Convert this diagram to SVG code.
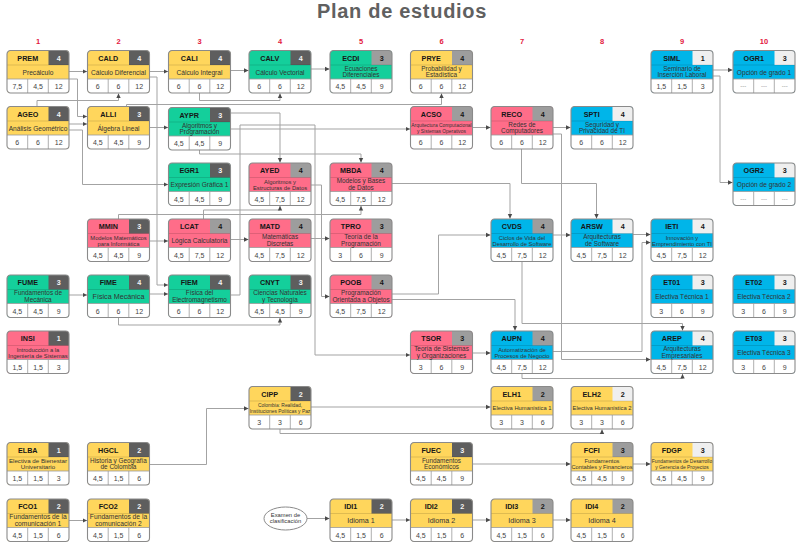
<svg xmlns="http://www.w3.org/2000/svg" width="800" height="546" viewBox="0 0 800 546">
<style>
text{font-family:"Liberation Sans",Arial,Helvetica,sans-serif}
.y .bg{fill:#FFD65C}.g .bg{fill:#14CF9B}.p .bg{fill:#FF6D89}.b .bg{fill:#00B5E9}
.sd{fill:#5E5E5E}.sm{fill:#9D9D9D}.sl{fill:#EFEFEF}
.cd,.k{font-size:7.2px;font-weight:bold;text-anchor:middle;fill:#161616}
.kw{fill:#F4F4F4}
.t{font-size:6.6px;text-anchor:middle;fill:#333}
.t2{font-size:6.4px}
.nm{font-size:7px;text-anchor:middle;fill:#444}
.dash{font-size:6px;fill:#888}
.col{font-size:7.5px;font-weight:bold;text-anchor:middle;fill:#E3173E}
.con path{fill:none;stroke:#A3A3A3;stroke-width:1;marker-end:url(#ah)}
</style>
<defs>
<marker id="ah" markerUnits="userSpaceOnUse" markerWidth="6" markerHeight="6" refX="4.5" refY="3" orient="auto"><path d="M0,0.8 L4.5,3 L0,5.2 Z" fill="#4A4A4A"/></marker>
<path id="rw" d="M0,28.5 H62 V39 A3.5,3.5 0 0 1 58.5,42.5 H3.5 A3.5,3.5 0 0 1 0,39 Z" fill="#fff"/>
<path id="cb" d="M41.5,0 H58.5 A3.5,3.5 0 0 1 62,3.5 V14.5 H41.5 Z"/>
<g id="fr">
<path d="M0,14.5 H62" stroke="#000" stroke-opacity="0.18" stroke-width="0.7" fill="none"/>
<path d="M0,28.5 H62 M20.7,28.5 V42.5 M41.3,28.5 V42.5" stroke="#9A9A9A" stroke-width="0.8" fill="none"/>
<rect width="62" height="42.5" rx="3.5" fill="none" stroke="#8A8A8A" stroke-width="1.1"/>
</g>
</defs>

<rect width="800" height="546" fill="#fff"/>
<text x="402" y="17.5" font-size="20" font-weight="bold" fill="#606060" text-anchor="middle" letter-spacing="0.7">Plan de estudios</text>

<!-- semester numbers -->
<g id="semesters">
<text class="col" x="38" y="43.5">1</text>
<text class="col" x="118.5" y="43.5">2</text>
<text class="col" x="199.5" y="43.5">3</text>
<text class="col" x="280" y="43.5">4</text>
<text class="col" x="361" y="43.5">5</text>
<text class="col" x="441.5" y="43.5">6</text>
<text class="col" x="522" y="43.5">7</text>
<text class="col" x="602" y="43.5">8</text>
<text class="col" x="682" y="43.5">9</text>
<text class="col" x="764" y="43.5">10</text>
</g>

<!-- prerequisite connectors -->
<g id="connectors" class="con">
<path d="M69,71.5H87"/>
<path d="M149.5,71.5H168"/>
<path d="M230.5,70.5H248.5"/>
<path d="M311,69H329.5"/>
<path d="M713,70H732.5"/>
<path d="M713,76H720V182.5H732.5"/>
<path d="M69,79H77.5V116.5H87"/>
<path d="M37,106.5V100.5H118.5V93.5"/>
<path d="M69,124H87"/>
<path d="M69,130H82.5V184.5H168"/>
<path d="M149.5,127.5H168"/>
<path d="M149.5,77H157V285H168"/>
<path d="M199.5,93V100.5H280V93.5"/>
<path d="M126.5,106.5V104.5H441.5V93.5"/>
<path d="M230.5,113H280V162.5"/>
<path d="M230.5,129H410"/>
<path d="M230.5,295H240V125H315V355H410"/>
<path d="M199.5,149V154H361V162.5"/>
<path d="M472.5,127.5H490.5"/>
<path d="M553,127.5H570.5"/>
<path d="M553,134H561.5V359.5H650.5"/>
<path d="M521.5,149V183.5H596.5V218.5"/>
<path d="M392,183.5H510V218.5"/>
<path d="M149.5,241H168"/>
<path d="M230.5,239.5H248.5"/>
<path d="M311,238.5H329.5"/>
<path d="M203.5,219V210H280V206"/>
<path d="M118.5,219V214.5H361V206"/>
<path d="M311,185H321.5V296.5H329.5"/>
<path d="M553,235H570.5"/>
<path d="M633,234.5H650.5"/>
<path d="M553,351.5H642V242.5H650.5"/>
<path d="M392,294H438.5V235H490.5"/>
<path d="M392,299.5H515V330.5"/>
<path d="M522,261.5V323.5H682.5V330.5"/>
<path d="M522,373.5V378.5H682.5V374"/>
<path d="M472.5,353H490.5"/>
<path d="M69,295H87"/>
<path d="M149.5,294H168"/>
<path d="M118.5,317.5V325H280V318"/>
<path d="M311,407H490.5"/>
<path d="M280,429V433.5H602V429.5"/>
<path d="M149.5,464.5H206.5V408.5H248.5"/>
<path d="M472.5,464H570.5"/>
<path d="M633,464H650.5"/>
<path d="M69,520.5H87"/>
<path d="M307,518.5H329.5"/>
<path d="M392,520H410"/>
<path d="M472.5,520H490.5"/>
<path d="M553,520H570.5"/>
</g>

<!-- semester 1 -->
<g id="PREM" class="y" transform="translate(7,50.5)"><rect class="bg" width="62" height="42.5" rx="3.5"/><use href="#rw"/><use href="#cb" class="sd"/><use href="#fr"/><text class="cd" x="20.75" y="10.4">PREM</text><text class="k kw" x="51.75" y="10.4">4</text><text class="t" x="31" y="24">Precálculo</text><text class="nm" y="38.6"><tspan x="10.3">7,5</tspan><tspan x="31">4,5</tspan><tspan x="51.7">12</tspan></text></g>
<g id="AGEO" class="y" transform="translate(7,106.5)"><rect class="bg" width="62" height="42.5" rx="3.5"/><use href="#rw"/><use href="#cb" class="sd"/><use href="#fr"/><text class="cd" x="20.75" y="10.4">AGEO</text><text class="k kw" x="51.75" y="10.4">4</text><text class="t" x="31" y="24">Análisis Geométrico</text><text class="nm" y="38.6"><tspan x="10.3">6</tspan><tspan x="31">6</tspan><tspan x="51.7">12</tspan></text></g>
<g id="FUME" class="g" transform="translate(7,275)"><rect class="bg" width="62" height="42.5" rx="3.5"/><use href="#rw"/><use href="#cb" class="sd"/><use href="#fr"/><text class="cd" x="20.75" y="10.4">FUME</text><text class="k kw" x="51.75" y="10.4">3</text><text class="t t2" x="31" y="20.4">Fundamentos de<tspan x="31" dy="6.4">Mecánica</tspan></text><text class="nm" y="38.6"><tspan x="10.3">4,5</tspan><tspan x="31">4,5</tspan><tspan x="51.7">9</tspan></text></g>
<g id="INSI" class="p" transform="translate(7,331)"><rect class="bg" width="62" height="42.5" rx="3.5"/><use href="#rw"/><use href="#cb" class="sd"/><use href="#fr"/><text class="cd" x="20.75" y="10.4">INSI</text><text class="k kw" x="51.75" y="10.4">1</text><text class="t" style="font-size:5.8px" x="31" y="20.5">Introducción a la<tspan x="31" dy="6">Ingeniería de Sistemas</tspan></text><text class="nm" y="38.6"><tspan x="10.3">1,5</tspan><tspan x="31">1,5</tspan><tspan x="51.7">3</tspan></text></g>
<g id="ELBA" class="y" transform="translate(7,442.5)"><rect class="bg" width="62" height="42.5" rx="3.5"/><use href="#rw"/><use href="#cb" class="sd"/><use href="#fr"/><text class="cd" x="20.75" y="10.4">ELBA</text><text class="k kw" x="51.75" y="10.4">1</text><text class="t" style="font-size:6.2px" x="31" y="20.4">Electiva de Bienestar<tspan x="31" dy="6.4">Universitario</tspan></text><text class="nm" y="38.6"><tspan x="10.3">1,5</tspan><tspan x="31">1,5</tspan><tspan x="51.7">3</tspan></text></g>
<g id="FCO1" class="y" transform="translate(7,499)"><rect class="bg" width="62" height="42.5" rx="3.5"/><use href="#rw"/><use href="#cb" class="sd"/><use href="#fr"/><text class="cd" x="20.75" y="10.4">FCO1</text><text class="k kw" x="51.75" y="10.4">2</text><text class="t" style="font-size:6.7px" x="31" y="20.4">Fundamentos de la<tspan x="31" dy="6.4">comunicación 1</tspan></text><text class="nm" y="38.6"><tspan x="10.3">4,5</tspan><tspan x="31">1,5</tspan><tspan x="51.7">6</tspan></text></g>

<!-- semester 2 -->
<g id="CALD" class="y" transform="translate(87.5,50.5)"><rect class="bg" width="62" height="42.5" rx="3.5"/><use href="#rw"/><use href="#cb" class="sd"/><use href="#fr"/><text class="cd" x="20.75" y="10.4">CALD</text><text class="k kw" x="51.75" y="10.4">4</text><text class="t" x="31" y="24">Cálculo Diferencial</text><text class="nm" y="38.6"><tspan x="10.3">6</tspan><tspan x="31">6</tspan><tspan x="51.7">12</tspan></text></g>
<g id="ALLI" class="y" transform="translate(87.5,106.5)"><rect class="bg" width="62" height="42.5" rx="3.5"/><use href="#rw"/><use href="#cb" class="sd"/><use href="#fr"/><text class="cd" x="20.75" y="10.4">ALLI</text><text class="k kw" x="51.75" y="10.4">3</text><text class="t" x="31" y="24">Álgebra Lineal</text><text class="nm" y="38.6"><tspan x="10.3">4,5</tspan><tspan x="31">4,5</tspan><tspan x="51.7">9</tspan></text></g>
<g id="MMIN" class="p" transform="translate(87.5,219)"><rect class="bg" width="62" height="42.5" rx="3.5"/><use href="#rw"/><use href="#cb" class="sd"/><use href="#fr"/><text class="cd" x="20.75" y="10.4">MMIN</text><text class="k kw" x="51.75" y="10.4">3</text><text class="t" style="font-size:5.8px" x="31" y="20.5">Modelos Matemáticos<tspan x="31" dy="6">para Informática</tspan></text><text class="nm" y="38.6"><tspan x="10.3">4,5</tspan><tspan x="31">4,5</tspan><tspan x="51.7">9</tspan></text></g>
<g id="FIME" class="g" transform="translate(87.5,275)"><rect class="bg" width="62" height="42.5" rx="3.5"/><use href="#rw"/><use href="#cb" class="sd"/><use href="#fr"/><text class="cd" x="20.75" y="10.4">FIME</text><text class="k kw" x="51.75" y="10.4">4</text><text class="t" style="font-size:7.2px" x="31" y="24.2">Física Mecánica</text><text class="nm" y="38.6"><tspan x="10.3">6</tspan><tspan x="31">6</tspan><tspan x="51.7">12</tspan></text></g>
<g id="HGCL" class="y" transform="translate(87.5,442.5)"><rect class="bg" width="62" height="42.5" rx="3.5"/><use href="#rw"/><use href="#cb" class="sd"/><use href="#fr"/><text class="cd" x="20.75" y="10.4">HGCL</text><text class="k kw" x="51.75" y="10.4">2</text><text class="t t2" x="31" y="20.4">Historia y Geografía<tspan x="31" dy="6.4">de Colombia</tspan></text><text class="nm" y="38.6"><tspan x="10.3">4,5</tspan><tspan x="31">1,5</tspan><tspan x="51.7">6</tspan></text></g>
<g id="FCO2" class="y" transform="translate(87.5,499)"><rect class="bg" width="62" height="42.5" rx="3.5"/><use href="#rw"/><use href="#cb" class="sd"/><use href="#fr"/><text class="cd" x="20.75" y="10.4">FCO2</text><text class="k kw" x="51.75" y="10.4">2</text><text class="t" style="font-size:6.7px" x="31" y="20.4">Fundamentos de la<tspan x="31" dy="6.4">comunicación 2</tspan></text><text class="nm" y="38.6"><tspan x="10.3">4,5</tspan><tspan x="31">1,5</tspan><tspan x="51.7">6</tspan></text></g>

<!-- semester 3 -->
<g id="CALI" class="y" transform="translate(168.5,50.5)"><rect class="bg" width="62" height="42.5" rx="3.5"/><use href="#rw"/><use href="#cb" class="sd"/><use href="#fr"/><text class="cd" x="20.75" y="10.4">CALI</text><text class="k kw" x="51.75" y="10.4">4</text><text class="t" x="31" y="24">Cálculo Integral</text><text class="nm" y="38.6"><tspan x="10.3">6</tspan><tspan x="31">6</tspan><tspan x="51.7">12</tspan></text></g>
<g id="AYPR" class="g" transform="translate(168.5,107.5)"><rect class="bg" width="62" height="42.5" rx="3.5"/><use href="#rw"/><use href="#cb" class="sd"/><use href="#fr"/><text class="cd" x="20.75" y="10.4">AYPR</text><text class="k kw" x="51.75" y="10.4">3</text><text class="t t2" x="31" y="20.4">Algoritmos y<tspan x="31" dy="6.4">Programación</tspan></text><text class="nm" y="38.6"><tspan x="10.3">4,5</tspan><tspan x="31">4,5</tspan><tspan x="51.7">9</tspan></text></g>
<g id="EGR1" class="g" transform="translate(168.5,163)"><rect class="bg" width="62" height="42.5" rx="3.5"/><use href="#rw"/><use href="#cb" class="sd"/><use href="#fr"/><text class="cd" x="20.75" y="10.4">EGR1</text><text class="k kw" x="51.75" y="10.4">3</text><text class="t" x="31" y="24">Expresión Gráfica 1</text><text class="nm" y="38.6"><tspan x="10.3">4,5</tspan><tspan x="31">4,5</tspan><tspan x="51.7">9</tspan></text></g>
<g id="LCAT" class="p" transform="translate(168.5,219)"><rect class="bg" width="62" height="42.5" rx="3.5"/><use href="#rw"/><use href="#cb" class="sm"/><use href="#fr"/><text class="cd" x="20.75" y="10.4">LCAT</text><text class="k" x="51.75" y="10.4">4</text><text class="t" x="31" y="24">Lógica Calculatoria</text><text class="nm" y="38.6"><tspan x="10.3">4,5</tspan><tspan x="31">7,5</tspan><tspan x="51.7">12</tspan></text></g>
<g id="FIEM" class="g" transform="translate(168.5,275)"><rect class="bg" width="62" height="42.5" rx="3.5"/><use href="#rw"/><use href="#cb" class="sd"/><use href="#fr"/><text class="cd" x="20.75" y="10.4">FIEM</text><text class="k kw" x="51.75" y="10.4">4</text><text class="t t2" x="31" y="20.4">Física del<tspan x="31" dy="6.4">Electromagnetismo</tspan></text><text class="nm" y="38.6"><tspan x="10.3">6</tspan><tspan x="31">6</tspan><tspan x="51.7">12</tspan></text></g>

<!-- semester 4 -->
<g id="CALV" class="g" transform="translate(249,50.5)"><rect class="bg" width="62" height="42.5" rx="3.5"/><use href="#rw"/><use href="#cb" class="sd"/><use href="#fr"/><text class="cd" x="20.75" y="10.4">CALV</text><text class="k kw" x="51.75" y="10.4">4</text><text class="t" x="31" y="24">Cálculo Vectorial</text><text class="nm" y="38.6"><tspan x="10.3">6</tspan><tspan x="31">6</tspan><tspan x="51.7">12</tspan></text></g>
<g id="AYED" class="p" transform="translate(249,163)"><rect class="bg" width="62" height="42.5" rx="3.5"/><use href="#rw"/><use href="#cb" class="sm"/><use href="#fr"/><text class="cd" x="20.75" y="10.4">AYED</text><text class="k" x="51.75" y="10.4">4</text><text class="t" style="font-size:5.8px" x="31" y="20.5">Algoritmos y<tspan x="31" dy="6">Estructuras de Datos</tspan></text><text class="nm" y="38.6"><tspan x="10.3">4,5</tspan><tspan x="31">7,5</tspan><tspan x="51.7">12</tspan></text></g>
<g id="MATD" class="p" transform="translate(249,219)"><rect class="bg" width="62" height="42.5" rx="3.5"/><use href="#rw"/><use href="#cb" class="sm"/><use href="#fr"/><text class="cd" x="20.75" y="10.4">MATD</text><text class="k" x="51.75" y="10.4">4</text><text class="t t2" x="31" y="20.4">Matemáticas<tspan x="31" dy="6.4">Discretas</tspan></text><text class="nm" y="38.6"><tspan x="10.3">4,5</tspan><tspan x="31">7,5</tspan><tspan x="51.7">12</tspan></text></g>
<g id="CNYT" class="g" transform="translate(249,275)"><rect class="bg" width="62" height="42.5" rx="3.5"/><use href="#rw"/><use href="#cb" class="sd"/><use href="#fr"/><text class="cd" x="20.75" y="10.4">CNYT</text><text class="k kw" x="51.75" y="10.4">3</text><text class="t t2" x="31" y="20.4">Ciencias Naturales<tspan x="31" dy="6.4">y Tecnología</tspan></text><text class="nm" y="38.6"><tspan x="10.3">4,5</tspan><tspan x="31">4,5</tspan><tspan x="51.7">9</tspan></text></g>
<g id="CIPP" class="y" transform="translate(249,386.5)"><rect class="bg" width="62" height="42.5" rx="3.5"/><use href="#rw"/><use href="#cb" class="sd"/><use href="#fr"/><text class="cd" x="20.75" y="10.4">CIPP</text><text class="k kw" x="51.75" y="10.4">2</text><text class="t" style="font-size:4.9px" x="31" y="20.6">Colombia: Realidad,<tspan x="31" dy="5.4">Instituciones Políticas y Paz</tspan></text><text class="nm" y="38.6"><tspan x="10.3">3</tspan><tspan x="31">3</tspan><tspan x="51.7">6</tspan></text></g>

<!-- semester 5 -->
<g id="ECDI" class="g" transform="translate(330,50.5)"><rect class="bg" width="62" height="42.5" rx="3.5"/><use href="#rw"/><use href="#cb" class="sm"/><use href="#fr"/><text class="cd" x="20.75" y="10.4">ECDI</text><text class="k" x="51.75" y="10.4">3</text><text class="t t2" x="31" y="20.4">Ecuaciones<tspan x="31" dy="6.4">Diferenciales</tspan></text><text class="nm" y="38.6"><tspan x="10.3">4,5</tspan><tspan x="31">4,5</tspan><tspan x="51.7">9</tspan></text></g>
<g id="MBDA" class="p" transform="translate(330,163)"><rect class="bg" width="62" height="42.5" rx="3.5"/><use href="#rw"/><use href="#cb" class="sm"/><use href="#fr"/><text class="cd" x="20.75" y="10.4">MBDA</text><text class="k" x="51.75" y="10.4">4</text><text class="t t2" x="31" y="20.4">Modelos y Bases<tspan x="31" dy="6.4">de Datos</tspan></text><text class="nm" y="38.6"><tspan x="10.3">4,5</tspan><tspan x="31">7,5</tspan><tspan x="51.7">12</tspan></text></g>
<g id="TPRO" class="p" transform="translate(330,219)"><rect class="bg" width="62" height="42.5" rx="3.5"/><use href="#rw"/><use href="#cb" class="sm"/><use href="#fr"/><text class="cd" x="20.75" y="10.4">TPRO</text><text class="k" x="51.75" y="10.4">3</text><text class="t t2" x="31" y="20.4">Teoría de la<tspan x="31" dy="6.4">Programación</tspan></text><text class="nm" y="38.6"><tspan x="10.3">3</tspan><tspan x="31">6</tspan><tspan x="51.7">9</tspan></text></g>
<g id="POOB" class="p" transform="translate(330,275)"><rect class="bg" width="62" height="42.5" rx="3.5"/><use href="#rw"/><use href="#cb" class="sm"/><use href="#fr"/><text class="cd" x="20.75" y="10.4">POOB</text><text class="k" x="51.75" y="10.4">4</text><text class="t t2" x="31" y="20.4">Programación<tspan x="31" dy="6.4">Orientada a Objetos</tspan></text><text class="nm" y="38.6"><tspan x="10.3">4,5</tspan><tspan x="31">7,5</tspan><tspan x="51.7">12</tspan></text></g>
<g id="IDI1" class="y" transform="translate(330,499)"><rect class="bg" width="62" height="42.5" rx="3.5"/><use href="#rw"/><use href="#cb" class="sd"/><use href="#fr"/><text class="cd" x="20.75" y="10.4">IDI1</text><text class="k kw" x="51.75" y="10.4">2</text><text class="t" style="font-size:7.2px" x="31" y="24.2">Idioma 1</text><text class="nm" y="38.6"><tspan x="10.3">4,5</tspan><tspan x="31">1,5</tspan><tspan x="51.7">6</tspan></text></g>

<!-- semester 6 -->
<g id="PRYE" class="y" transform="translate(410.5,50.5)"><rect class="bg" width="62" height="42.5" rx="3.5"/><use href="#rw"/><use href="#cb" class="sm"/><use href="#fr"/><text class="cd" x="20.75" y="10.4">PRYE</text><text class="k" x="51.75" y="10.4">4</text><text class="t t2" x="31" y="20.4">Probabilidad y<tspan x="31" dy="6.4">Estadística</tspan></text><text class="nm" y="38.6"><tspan x="10.3">6</tspan><tspan x="31">6</tspan><tspan x="51.7">12</tspan></text></g>
<g id="ACSO" class="p" transform="translate(410.5,106.5)"><rect class="bg" width="62" height="42.5" rx="3.5"/><use href="#rw"/><use href="#cb" class="sm"/><use href="#fr"/><text class="cd" x="20.75" y="10.4">ACSO</text><text class="k" x="51.75" y="10.4">4</text><text class="t" style="font-size:4.9px" x="31" y="20.6">Arquitectura Computacional<tspan x="31" dy="5.4">y Sistemas Operativos</tspan></text><text class="nm" y="38.6"><tspan x="10.3">6</tspan><tspan x="31">6</tspan><tspan x="51.7">12</tspan></text></g>
<g id="TSOR" class="p" transform="translate(410.5,331)"><rect class="bg" width="62" height="42.5" rx="3.5"/><use href="#rw"/><use href="#cb" class="sm"/><use href="#fr"/><text class="cd" x="20.75" y="10.4">TSOR</text><text class="k" x="51.75" y="10.4">3</text><text class="t t2" x="31" y="20.4">Teoría de Sistemas<tspan x="31" dy="6.4">y Organizaciones</tspan></text><text class="nm" y="38.6"><tspan x="10.3">3</tspan><tspan x="31">6</tspan><tspan x="51.7">9</tspan></text></g>
<g id="FUEC" class="y" transform="translate(410.5,442.5)"><rect class="bg" width="62" height="42.5" rx="3.5"/><use href="#rw"/><use href="#cb" class="sd"/><use href="#fr"/><text class="cd" x="20.75" y="10.4">FUEC</text><text class="k kw" x="51.75" y="10.4">3</text><text class="t t2" x="31" y="20.4">Fundamentos<tspan x="31" dy="6.4">Económicos</tspan></text><text class="nm" y="38.6"><tspan x="10.3">4,5</tspan><tspan x="31">4,5</tspan><tspan x="51.7">9</tspan></text></g>
<g id="IDI2" class="y" transform="translate(410.5,499)"><rect class="bg" width="62" height="42.5" rx="3.5"/><use href="#rw"/><use href="#cb" class="sd"/><use href="#fr"/><text class="cd" x="20.75" y="10.4">IDI2</text><text class="k kw" x="51.75" y="10.4">2</text><text class="t" style="font-size:7.2px" x="31" y="24.2">Idioma 2</text><text class="nm" y="38.6"><tspan x="10.3">4,5</tspan><tspan x="31">1,5</tspan><tspan x="51.7">6</tspan></text></g>

<!-- semester 7 -->
<g id="RECO" class="p" transform="translate(491,106.5)"><rect class="bg" width="62" height="42.5" rx="3.5"/><use href="#rw"/><use href="#cb" class="sm"/><use href="#fr"/><text class="cd" x="20.75" y="10.4">RECO</text><text class="k" x="51.75" y="10.4">4</text><text class="t t2" x="31" y="20.4">Redes de<tspan x="31" dy="6.4">Computadores</tspan></text><text class="nm" y="38.6"><tspan x="10.3">6</tspan><tspan x="31">6</tspan><tspan x="51.7">12</tspan></text></g>
<g id="CVDS" class="b" transform="translate(491,219)"><rect class="bg" width="62" height="42.5" rx="3.5"/><use href="#rw"/><use href="#cb" class="sm"/><use href="#fr"/><text class="cd" x="20.75" y="10.4">CVDS</text><text class="k" x="51.75" y="10.4">4</text><text class="t" style="font-size:5.8px" x="31" y="20.5">Ciclos de Vida del<tspan x="31" dy="6">Desarrollo de Software</tspan></text><text class="nm" y="38.6"><tspan x="10.3">4,5</tspan><tspan x="31">7,5</tspan><tspan x="51.7">12</tspan></text></g>
<g id="AUPN" class="b" transform="translate(491,331)"><rect class="bg" width="62" height="42.5" rx="3.5"/><use href="#rw"/><use href="#cb" class="sm"/><use href="#fr"/><text class="cd" x="20.75" y="10.4">AUPN</text><text class="k" x="51.75" y="10.4">4</text><text class="t" style="font-size:5.8px" x="31" y="20.5">Automatización de<tspan x="31" dy="6">Procesos de Negocio</tspan></text><text class="nm" y="38.6"><tspan x="10.3">4,5</tspan><tspan x="31">7,5</tspan><tspan x="51.7">12</tspan></text></g>
<g id="ELH1" class="y" transform="translate(491,386.5)"><rect class="bg" width="62" height="42.5" rx="3.5"/><use href="#rw"/><use href="#cb" class="sm"/><use href="#fr"/><text class="cd" x="20.75" y="10.4">ELH1</text><text class="k" x="51.75" y="10.4">2</text><text class="t" style="font-size:5.8px" x="31" y="23.6">Electiva Humanística 1</text><text class="nm" y="38.6"><tspan x="10.3">3</tspan><tspan x="31">3</tspan><tspan x="51.7">6</tspan></text></g>
<g id="IDI3" class="y" transform="translate(491,499)"><rect class="bg" width="62" height="42.5" rx="3.5"/><use href="#rw"/><use href="#cb" class="sm"/><use href="#fr"/><text class="cd" x="20.75" y="10.4">IDI3</text><text class="k" x="51.75" y="10.4">2</text><text class="t" style="font-size:7.2px" x="31" y="24.2">Idioma 3</text><text class="nm" y="38.6"><tspan x="10.3">4,5</tspan><tspan x="31">1,5</tspan><tspan x="51.7">6</tspan></text></g>

<!-- semester 8 -->
<g id="SPTI" class="b" transform="translate(571,106.5)"><rect class="bg" width="62" height="42.5" rx="3.5"/><use href="#rw"/><use href="#cb" class="sl"/><use href="#fr"/><text class="cd" x="20.75" y="10.4">SPTI</text><text class="k" x="51.75" y="10.4">4</text><text class="t t2" x="31" y="20.4">Seguridad y<tspan x="31" dy="6.4">Privacidad de TI</tspan></text><text class="nm" y="38.6"><tspan x="10.3">6</tspan><tspan x="31">6</tspan><tspan x="51.7">12</tspan></text></g>
<g id="ARSW" class="b" transform="translate(571,219)"><rect class="bg" width="62" height="42.5" rx="3.5"/><use href="#rw"/><use href="#cb" class="sl"/><use href="#fr"/><text class="cd" x="20.75" y="10.4">ARSW</text><text class="k" x="51.75" y="10.4">4</text><text class="t t2" x="31" y="20.4">Arquitecturas<tspan x="31" dy="6.4">de Software</tspan></text><text class="nm" y="38.6"><tspan x="10.3">4,5</tspan><tspan x="31">7,5</tspan><tspan x="51.7">12</tspan></text></g>
<g id="ELH2" class="y" transform="translate(571,386.5)"><rect class="bg" width="62" height="42.5" rx="3.5"/><use href="#rw"/><use href="#cb" class="sl"/><use href="#fr"/><text class="cd" x="20.75" y="10.4">ELH2</text><text class="k" x="51.75" y="10.4">2</text><text class="t" style="font-size:5.8px" x="31" y="23.6">Electiva Humanística 2</text><text class="nm" y="38.6"><tspan x="10.3">3</tspan><tspan x="31">3</tspan><tspan x="51.7">6</tspan></text></g>
<g id="FCFI" class="y" transform="translate(571,442.5)"><rect class="bg" width="62" height="42.5" rx="3.5"/><use href="#rw"/><use href="#cb" class="sm"/><use href="#fr"/><text class="cd" x="20.75" y="10.4">FCFI</text><text class="k" x="51.75" y="10.4">3</text><text class="t" style="font-size:5.7px" x="31" y="20.5">Fundamentos<tspan x="31" dy="6">Contables y Financieros</tspan></text><text class="nm" y="38.6"><tspan x="10.3">4,5</tspan><tspan x="31">4,5</tspan><tspan x="51.7">9</tspan></text></g>
<g id="IDI4" class="y" transform="translate(571,499)"><rect class="bg" width="62" height="42.5" rx="3.5"/><use href="#rw"/><use href="#cb" class="sm"/><use href="#fr"/><text class="cd" x="20.75" y="10.4">IDI4</text><text class="k" x="51.75" y="10.4">2</text><text class="t" style="font-size:7.2px" x="31" y="24.2">Idioma 4</text><text class="nm" y="38.6"><tspan x="10.3">4,5</tspan><tspan x="31">1,5</tspan><tspan x="51.7">6</tspan></text></g>

<!-- semester 9 -->
<g id="SIML" class="b" transform="translate(651,50.5)"><rect class="bg" width="62" height="42.5" rx="3.5"/><use href="#rw"/><use href="#cb" class="sl"/><use href="#fr"/><text class="cd" x="20.75" y="10.4">SIML</text><text class="k" x="51.75" y="10.4">1</text><text class="t t2" x="31" y="20.4">Seminario de<tspan x="31" dy="6.4">Inserción Laboral</tspan></text><text class="nm" y="38.6"><tspan x="10.3">1,5</tspan><tspan x="31">1,5</tspan><tspan x="51.7">3</tspan></text></g>
<g id="IETI" class="b" transform="translate(651,219)"><rect class="bg" width="62" height="42.5" rx="3.5"/><use href="#rw"/><use href="#cb" class="sl"/><use href="#fr"/><text class="cd" x="20.75" y="10.4">IETI</text><text class="k" x="51.75" y="10.4">4</text><text class="t" style="font-size:5.8px" x="31" y="20.5">Innovación y<tspan x="31" dy="6">Emprendimiento con TI</tspan></text><text class="nm" y="38.6"><tspan x="10.3">4,5</tspan><tspan x="31">7,5</tspan><tspan x="51.7">12</tspan></text></g>
<g id="ET01" class="b" transform="translate(651,275)"><rect class="bg" width="62" height="42.5" rx="3.5"/><use href="#rw"/><use href="#cb" class="sl"/><use href="#fr"/><text class="cd" x="20.75" y="10.4">ET01</text><text class="k" x="51.75" y="10.4">3</text><text class="t" x="31" y="24">Electiva Técnica 1</text><text class="nm" y="38.6"><tspan x="10.3">3</tspan><tspan x="31">6</tspan><tspan x="51.7">9</tspan></text></g>
<g id="AREP" class="b" transform="translate(651,331)"><rect class="bg" width="62" height="42.5" rx="3.5"/><use href="#rw"/><use href="#cb" class="sl"/><use href="#fr"/><text class="cd" x="20.75" y="10.4">AREP</text><text class="k" x="51.75" y="10.4">4</text><text class="t t2" x="31" y="20.4">Arquitecturas<tspan x="31" dy="6.4">Empresariales</tspan></text><text class="nm" y="38.6"><tspan x="10.3">4,5</tspan><tspan x="31">7,5</tspan><tspan x="51.7">12</tspan></text></g>
<g id="FDGP" class="y" transform="translate(651,442.5)"><rect class="bg" width="62" height="42.5" rx="3.5"/><use href="#rw"/><use href="#cb" class="sl"/><use href="#fr"/><text class="cd" x="20.75" y="10.4">FDGP</text><text class="k" x="51.75" y="10.4">3</text><text class="t" style="font-size:4.9px" x="31" y="20.6">Fundamentos de Desarrollo<tspan x="31" dy="5.4">y Gerencia de Proyectos</tspan></text><text class="nm" y="38.6"><tspan x="10.3">4,5</tspan><tspan x="31">4,5</tspan><tspan x="51.7">9</tspan></text></g>

<!-- semester 10 -->
<g id="OGR1" class="b" transform="translate(733,50.5)"><rect class="bg" width="62" height="42.5" rx="3.5"/><use href="#rw"/><use href="#cb" class="sl"/><use href="#fr"/><text class="cd" x="20.75" y="10.4">OGR1</text><text class="k" x="51.75" y="10.4">3</text><text class="t" x="31" y="24">Opción de grado 1</text><text class="nm dash" y="37.8"><tspan x="10.3">---</tspan><tspan x="31">---</tspan><tspan x="51.7">---</tspan></text></g>
<g id="OGR2" class="b" transform="translate(733,163)"><rect class="bg" width="62" height="42.5" rx="3.5"/><use href="#rw"/><use href="#cb" class="sl"/><use href="#fr"/><text class="cd" x="20.75" y="10.4">OGR2</text><text class="k" x="51.75" y="10.4">3</text><text class="t" x="31" y="24">Opción de grado 2</text><text class="nm dash" y="37.8"><tspan x="10.3">---</tspan><tspan x="31">---</tspan><tspan x="51.7">---</tspan></text></g>
<g id="ET02" class="b" transform="translate(733,275)"><rect class="bg" width="62" height="42.5" rx="3.5"/><use href="#rw"/><use href="#cb" class="sl"/><use href="#fr"/><text class="cd" x="20.75" y="10.4">ET02</text><text class="k" x="51.75" y="10.4">3</text><text class="t" x="31" y="24">Electiva Técnica 2</text><text class="nm" y="38.6"><tspan x="10.3">3</tspan><tspan x="31">6</tspan><tspan x="51.7">9</tspan></text></g>
<g id="ET03" class="b" transform="translate(733,331)"><rect class="bg" width="62" height="42.5" rx="3.5"/><use href="#rw"/><use href="#cb" class="sl"/><use href="#fr"/><text class="cd" x="20.75" y="10.4">ET03</text><text class="k" x="51.75" y="10.4">3</text><text class="t" x="31" y="24">Electiva Técnica 3</text><text class="nm" y="38.6"><tspan x="10.3">3</tspan><tspan x="31">6</tspan><tspan x="51.7">9</tspan></text></g>

<!-- placement exam -->
<g id="EXAM">
<ellipse cx="285.5" cy="518.5" rx="21.5" ry="11.5" fill="#fff" stroke="#8A8A8A" stroke-width="1"/>
<text class="t" style="font-size:5.8px" x="285.5" y="516.8">Examen de<tspan x="285.5" dy="6.4">clasificación</tspan></text>
</g>
</svg>
